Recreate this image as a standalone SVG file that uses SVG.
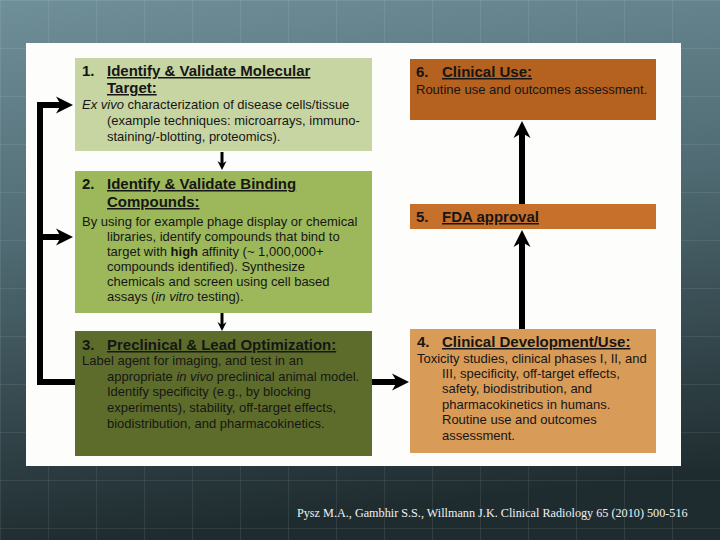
<svg xmlns="http://www.w3.org/2000/svg" width="720" height="540" viewBox="0 0 720 540">
  <defs>
    <linearGradient id="bg" x1="0" y1="0" x2="0.15" y2="1">
      <stop offset="0" stop-color="#6f8f99"/>
      <stop offset="0.45" stop-color="#4f6a72"/>
      <stop offset="1" stop-color="#1f2c2f"/>
    </linearGradient>
    <pattern id="grid" width="48" height="48" patternUnits="userSpaceOnUse">
      <path d="M0 0.5 H48 M0.5 0 V48" stroke="#ffffff" stroke-opacity="0.08" stroke-width="1" fill="none"/>
    </pattern>
    <marker id="big" markerUnits="userSpaceOnUse" markerWidth="20" markerHeight="20" viewBox="-18 -10 20 20" refX="-11" refY="0" orient="auto">
      <path d="M0 0 L-17 -8.5 L-12 0 L-17 8.5 Z" fill="#000"/>
    </marker>
    <marker id="small" markerUnits="userSpaceOnUse" markerWidth="12" markerHeight="12" viewBox="-10 -6 12 12" refX="-5" refY="0" orient="auto">
      <path d="M0 0 L-9 -4.5 L-6 0 L-9 4.5 Z" fill="#000"/>
    </marker>
  </defs>
  <style>
    text { font-family: "Liberation Sans", Arial, sans-serif; fill: #161616; }
    .t { font-size: 15px; font-weight: bold; }
    .u { text-decoration: underline; }
    .b { font-size: 13px; }
    .i { font-style: italic; }
    .bd { font-weight: bold; }
    .conn { stroke: #000; fill: none; stroke-linejoin: miter; }
    .thick { stroke-width: 6; }
    .thin { stroke-width: 3; }
    .cite { font-family: "Liberation Serif", "Times New Roman", serif; font-size: 12.2px; fill: #eef3f4; }
  </style>

  <rect x="0" y="0" width="720" height="540" fill="url(#bg)"/>
  <rect x="0" y="0" width="720" height="540" fill="url(#grid)"/>
  <rect x="26" y="43" width="655" height="423" fill="#fdfefb"/>

  <g id="connectors">
    <path class="conn thick" d="M62 105 H40 V382 H398" marker-end="url(#big)"/>
    <path class="conn thick" d="M40 237 H62" marker-end="url(#big)"/>
    <path class="conn thin" d="M222 152 V165" marker-end="url(#small)"/>
    <path class="conn thin" d="M222 313 V326" marker-end="url(#small)"/>
    <path class="conn thick" d="M522 329 V241" marker-end="url(#big)"/>
    <path class="conn thick" d="M522 204 V132" marker-end="url(#big)"/>
    <path class="conn thick" d="M45 105 H62" marker-end="url(#big)"/>
  </g>

  <g id="node1">
    <rect x="75" y="58" width="297" height="93" fill="#c6d5a2"/>
    <text class="t" x="82" y="76">1.</text>
    <text class="t u" x="107" y="76">Identify &amp; Validate Molecular</text>
    <text class="t u" x="107" y="93">Target:</text>
    <text class="b" x="82" y="109"><tspan class="i">Ex vivo</tspan> characterization of disease cells/tissue</text>
    <text class="b" x="107" y="125">(example techniques: microarrays, immuno-</text>
    <text class="b" x="107" y="141">staining/-blotting, proteomics).</text>
  </g>

  <g id="node2">
    <rect x="75" y="171" width="297" height="142" fill="#9db85a"/>
    <text class="t" x="82" y="189">2.</text>
    <text class="t u" x="107" y="189">Identify &amp; Validate Binding</text>
    <text class="t u" x="107" y="207">Compounds:</text>
    <text class="b" x="82" y="226">By using for example phage display or chemical</text>
    <text class="b" x="107" y="241">libraries, identify compounds that bind to</text>
    <text class="b" x="107" y="256">target with <tspan class="bd">high</tspan> affinity (~ 1,000,000+</text>
    <text class="b" x="107" y="271">compounds identified). Synthesize</text>
    <text class="b" x="107" y="286">chemicals and screen using cell based</text>
    <text class="b" x="107" y="301">assays (<tspan class="i">in vitro</tspan> testing).</text>
  </g>

  <g id="node3">
    <rect x="75" y="331" width="297" height="125" fill="#5d6c2b"/>
    <text class="t" x="82" y="350">3.</text>
    <text class="t u" x="107" y="350">Preclinical &amp; Lead Optimization:</text>
    <text class="b" x="82" y="365">Label agent for imaging, and test in an</text>
    <text class="b" x="107" y="381">appropriate <tspan class="i">in vivo</tspan>  preclinical animal model.</text>
    <text class="b" x="107" y="396">Identify specificity (e.g., by blocking</text>
    <text class="b" x="107" y="412">experiments), stability, off-target effects,</text>
    <text class="b" x="107" y="428">biodistribution, and pharmacokinetics.</text>
  </g>

  <g id="node6">
    <rect x="410" y="59" width="246" height="61" fill="#b5611f"/>
    <text class="t" x="416" y="77">6.</text>
    <text class="t u" x="442" y="77">Clinical Use:</text>
    <text class="b" x="416" y="94">Routine use and outcomes assessment.</text>
  </g>

  <g id="node5">
    <rect x="410" y="204" width="246" height="25" fill="#c6702c"/>
    <text class="t" x="416" y="222">5.</text>
    <text class="t u" x="442" y="222">FDA approval</text>
  </g>

  <g id="node4">
    <rect x="410" y="329" width="246" height="124" fill="#d89b58"/>
    <text class="t" x="417" y="347">4.</text>
    <text class="t u" x="442" y="347">Clinical Development/Use:</text>
    <text class="b" x="417" y="363">Toxicity studies, clinical phases I, II, and</text>
    <text class="b" x="442" y="378">III, specificity, off-target effects,</text>
    <text class="b" x="442" y="393">safety, biodistribution, and</text>
    <text class="b" x="442" y="409">pharmacokinetics in humans.</text>
    <text class="b" x="442" y="424">Routine use and outcomes</text>
    <text class="b" x="442" y="440">assessment.</text>
  </g>

  <text class="cite" x="297" y="517">Pysz M.A., Gambhir S.S., Willmann J.K.  Clinical Radiology 65 (2010) 500-516</text>
</svg>
